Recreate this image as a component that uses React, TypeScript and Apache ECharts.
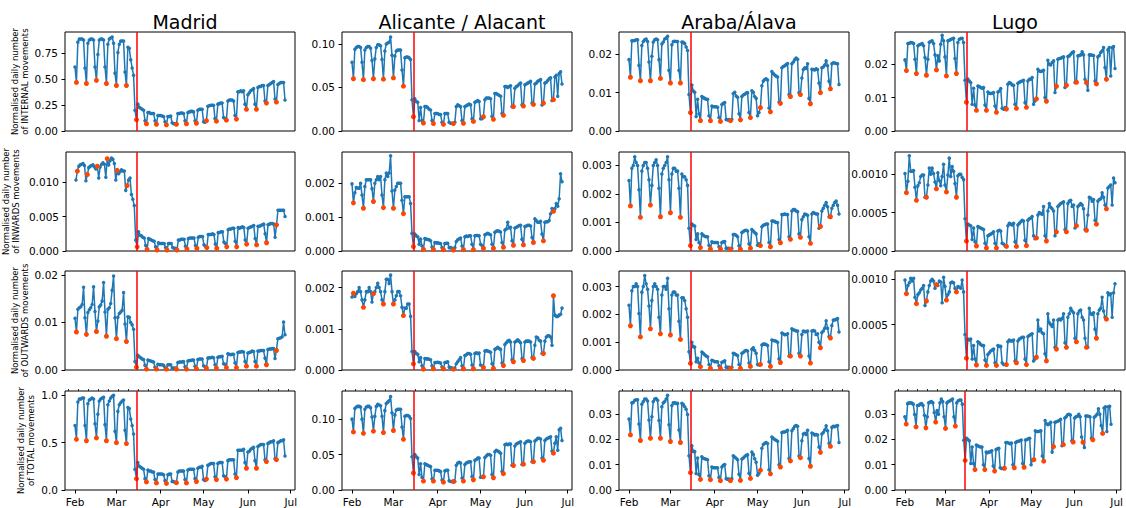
import React, { useEffect, useRef } from "react";
import * as echarts from "echarts";

const FONT = "DejaVu Sans";
const regions = ["Madrid", "Alicante / Alacant", "Araba/Álava", "Lugo"];
const movementKinds = ["INTERNAL", "INWARDS", "OUTWARDS", "TOTAL"];
const firstDate = "2020-02-01";
const stateOfAlarmDate = "2020-03-15";
const axisStart = "2020-01-25";
const axisEnd = "2020-07-04";
const monthLabels = ["Jan", "Feb", "Mar", "Apr", "May", "Jun", "Jul", "Aug", "Sep", "Oct", "Nov", "Dec"];

// Every series: Sat 1 Feb 2020, then one row per week (Sun..Sat) up to Sat 27 Jun 2020.
// Values are given in the unit listed in the matching *Units array.
const madridInternal = [62,
  47,86,89,89,89,88,61, 46,85,88,89,89,88,62, 49,74,88,89,89,88,62, 46,84,89,90,91,85,56,
  44,76,84,87,87,87,57, 44,81,80,69,61,54,20, 11,26,23,22,21,20,10, 7,18,18,17,17,17,10,
  6.5,15,15,15,14.5,14,9, 6,14,14,14.5,8,7,7, 6.5,17,17,17.5,17.5,17,10, 7,18,18.5,19,19,18.5,10,
  7.5,20,21,21,21,9,8.5, 10,24,24.5,25,25,25,12, 9.5,26,26.5,27,27,13,12, 10.5,29,30,30,30,29,15,
  11.5,38,38,39,38,39,26, 21,35,37,39,40,41,26, 21,42,43,43,44,44,29, 27,44,45,46,47,48,31,
  28,45,46,47,47,47,30];
const madridInwards = [103,
  116,123,125,126,127,124,102, 111,121,123,124,125,122,119, 123,106,122,126,128,126,107, 134,125,131,135,133,127,103,
  117,112,115,118,116,116,88, 95,103,106,82,75,66,16, 6,28,23,22,20,19,8, 2.4,18,17,16,15,14,6,
  1.4,12,11,11,11,11,5, 1.4,11,11,11,5,4,4, 1.4,16,16,17,17,17,7, 3,18,19,19,19,19,8,
  4,20,21,21,21,9,7, 5,24,24,24,25,24,10, 4,27,27,28,28,13,11, 6,31,32,32,33,33,14,
  6,34,33,34,35,34,16, 10,33,34,35,36,37,18, 9,36,36,37,38,39,25, 12,38,39,40,40,39,20,
  38,59,59,59,59,59,50];
const madridOutwards = [109,
  80,128,131,133,138,174,110, 75,121,127,131,138,175,123, 81,103,133,137,145,184,122, 71,128,131,140,168,198,110,
  66,111,119,122,126,163,97, 60,112,111,100,95,86,18, 6,31,28,26,23,22,10, 2,21,20,19,18,17,6,
  2,12,11,11,11,10,5, 2,11,11,11,4,4,4, 2,16,17,17,17,18,7, 2,19,20,20,21,21,8,
  3,22,23,23,23,9,7, 4,25,26,26,27,26,11, 4,27,28,28,29,13,12, 5,34,33,32,33,33,15,
  5,37,38,38,39,38,18, 8,36,37,38,40,39,18, 8,40,40,41,41,41,25, 11,43,44,44,45,45,24,
  41,66,67,68,70,101,74];
const madridTotal = [68,
  53.5,93,96,96,97,97,68, 52,91,95,96,97,96,70, 55,80,94,96,97,98,69, 52,90,94,97,99,100,62,
  50,83,90,92,94,95,63, 49,87,86,75,68,59,22, 12,29,25,24,23,22,12, 8.5,21,20,20,19,19,11,
  7.5,17,17,17,17,16,10, 7,16,17,17,9,9,8, 7.7,19,20,20,20,20,11, 7.5,21,22,22,22,22,12,
  9,23,24,24,25,11,10, 11.5,26,27,28,28,28,14, 11,28,29,29,29,15,14, 11.5,31,32,32,32,32,17,
  13,42,42,42,42,43,29, 23,40,41,43,44,45,31, 23,46,47,48,48,48,32, 30,49,50,51,51,52,33,
  32,50,51,52,52,53,36];

const alicanteInternal = [79,
  60,94,96,97,97,96,79, 59,93,96,97,97,95,81, 60,83,96,99,99,98,82, 59.5,92,100,101,102,108,87,
  61,86,92,93,93,93,70, 51.5,84,85,85,84,82,36, 16.4,37,34,33,12,27,12, 9.2,28,28,27,25,24,12,
  8.5,20,20,20,19,19,10, 7.7,20,20,20,10,9,9, 8.5,10,28,30,29,28,12, 8.8,28,29,30,31,30,14,
  11,33,34,35,34,14,14, 16.4,36,38,38,38,37,17, 13.4,43,43,42,41,40,20, 18,51,51,50,51,52,28,
  28,49,51,52,54,55,30, 28.6,53,54,55,56,57,32, 30.5,54,55,57,58,59,30, 32,55,56,58,60,61,35,
  36,62,64,40,66,68,54];
const alicanteInwards = [198,
  142,172,187,186,185,200,165, 126,190,210,210,210,210,184, 146,200,210,220,210,220,165, 128,210,230,220,230,281,177,
  126,180,190,200,200,200,150, 110,160,160,160,160,140,52, 13,50,45,42,20,35,15, 5,37,35,34,33,30,12,
  5,25,24,24,23,22,10, 4,22,23,23,10,10,8, 3,10,28,33,36,38,15, 4,42,44,43,45,45,20,
  4,45,46,46,45,20,16, 8,48,50,52,50,48,20, 8,55,58,60,58,56,25, 11,62,65,85,68,70,30,
  17,68,70,72,75,76,35, 18,72,74,76,76,74,40, 25,95,90,85,85,88,50, 30,85,86,86,90,110,125,
  117,125,140,132,154,228,204];
const alicanteOutwards = [177,
  186,178,185,190,200,190,170, 152,170,190,190,200,190,165, 185,190,200,210,200,190,170, 160,190,220,220,210,230,190,
  160,170,180,190,190,180,152, 132,150,150,160,160,130,45, 15,45,40,38,20,30,10, 2,28,27,27,26,25,10,
  3,18,18,19,18,17,7, 3,18,19,20,7,6,5, 2,5,15,20,25,30,10, 3,35,37,40,40,38,12,
  3,40,42,40,41,12,10, 6,46,47,46,45,43,15, 4,50,52,55,52,50,17, 11,62,66,70,72,68,25,
  20,68,70,73,70,66,28, 23,68,70,70,70,68,30, 28,60,80,78,72,70,40, 40,70,80,83,83,80,60,
  180,133,130,130,133,135,150];
const alicanteTotal = [100,
  82,115,117,118,118,117,100, 80,114,117,118,118,116,103, 83,104,118,121,120,119,104, 81,112,122,124,126,132,109,
  84,106,113,114,114,114,89, 71.5,104,105,105,104,101,47, 24,50,47,45,22,37,18, 12.6,37,36,35,34,33,16,
  12.6,28,28,28,27,26,14, 11,27,28,28,13,12,12, 12,12,35,38,39,38,17, 12.6,36,38,39,40,40,19,
  14.5,42,43,45,45,18,18, 18.7,46,48,50,50,49,22, 17.3,54,56,55,54,52,26, 23,64,65,64,65,65,35,
  34.6,62,65,66,67,68,36, 36.4,66,68,69,69,68,40, 40,69,71,73,73,72,45, 42,70,72,73,74,75,55,
  52,66,75,56,85,87,70];

const arabaInternal = [186,
  140,235,235,236,238,238,171, 131,223,233,238,240,233,180, 131,195,232,238,240,238,186, 137,227,232,240,242,247,158,
  125,225,233,234,233,233,158, 125,232,231,228,219,210,95, 48,120,104,101,38,83,45, 27,90,87,85,83,83,40,
  27,65,63,63,63,62,35, 25,69,72,74,30,29,30, 27,30,98,101,91,88,45, 29,90,94,96,99,100,48,
  35,105,101,90,85,40,48, 61,118,130,134,136,133,60, 50,155,150,146,143,141,75, 72,165,168,170,173,176,95,
  90,175,180,186,190,187,100, 95,138,160,165,163,175,85, 71,161,160,159,162,160,125, 100,165,167,172,183,170,130,
  110,175,178,177,176,175,121];
const arabaInwards = [247,
  158,290,300,330,310,300,215, 118,280,300,310,310,290,250, 161,230,300,310,320,300,220, 120,270,290,300,310,330,250,
  134,270,290,290,280,280,220, 118,270,260,260,250,230,80, 19,95,90,88,40,60,30, 12,60,55,52,50,50,20,
  7,32,30,30,30,30,15, 7,30,32,33,10,10,10, 6,10,58,58,55,50,18, 6,65,68,72,73,70,25,
  10,75,70,65,60,20,25, 19,85,90,92,95,95,30, 15,105,105,103,100,100,40, 29,128,128,130,128,128,50,
  41,140,145,145,140,138,60, 48,110,120,130,128,125,50, 27,130,135,132,130,130,80, 86,140,150,160,170,155,120,
  120,150,160,170,175,160,130];
const arabaOutwards = [233,
  159,285,300,300,310,300,203, 119,280,300,340,310,290,230, 148,250,300,310,300,290,190, 130,270,300,300,290,330,220,
  126,270,280,280,270,270,175, 110,260,260,250,220,190,66, 24,100,84,83,30,42,25, 12,65,60,55,50,48,20,
  6,35,33,30,30,30,15, 6,28,30,33,10,10,10, 6,10,60,58,55,52,20, 6,60,63,68,70,68,25,
  13,75,80,70,60,20,18, 20,90,93,93,92,88,30, 13,108,106,105,103,100,40, 27,133,130,127,128,130,50,
  50,148,145,143,140,140,60, 50,128,140,138,138,140,50, 25,140,142,140,128,130,100, 80,135,140,150,177,150,120,
  115,160,180,180,182,185,137];
const arabaTotal = [281,
  218,345,347,355,357,357,261, 196,340,350,360,360,352,277, 205,290,350,360,362,355,275, 205,330,345,350,360,375,258,
  192,335,345,345,343,343,238, 188,343,338,330,320,299,136, 69,175,153,152,65,127,60, 42,132,126,124,122,120,56,
  41,91,88,88,88,88,50, 37,91,98,101,45,43,43, 37,45,136,131,126,120,62, 38,123,127,133,138,140,66,
  46,150,141,124,110,58,65, 78,165,180,185,188,184,80, 64,210,205,200,197,193,100, 91,228,230,230,233,237,125,
  115,235,243,252,255,252,135, 128,195,222,225,220,237,125, 94,226,223,218,220,218,170, 149,222,228,238,254,235,185,
  173,248,252,251,253,255,188];

const lugoInternal = [213,
  181,262,263,265,264,262,215, 172,255,258,260,262,255,220, 167,215,266,268,270,262,228, 183,225,210,260,287,270,222,
  165,270,272,274,276,278,217, 172,265,275,277,278,265,152, 86,156,150,145,80,128,78, 62,135,133,130,128,130,78,
  62,117,113,112,113,115,75, 56,117,120,127,68,65,70, 66,140,145,143,138,137,80, 68,143,146,148,150,152,85,
  71,150,155,155,160,80,90, 96,185,180,178,180,182,100, 89,212,200,198,205,210,115, 134,215,217,218,220,222,130,
  137,223,225,230,235,237,145, 146,225,226,228,237,228,155, 145,122,228,228,227,226,150, 141,222,226,235,240,250,190,
  155,243,250,165,250,253,187];
const lugoInwards = [101,
  76,91,124,104,104,105,83, 66,85,89,97,99,99,70, 70,86,108,100,108,101,90, 81,102,92,85,97,113,86,
  77,99,121,97,110,104,88, 70,98,100,100,96,93,42, 13,35,34,33,15,30,12, 6.5,32,31,30,29,28,10,
  4,20,21,22,23,25,10, 4,26,27,26,10,9,7, 6,33,36,35,34,36,12, 6,34,36,38,40,39,14,
  7,40,42,43,45,20,16, 17,47,50,49,48,58,20, 13,52,62,57,55,52,20, 25,58,60,62,63,64,28,
  25,62,65,66,58,60,30, 33,58,60,62,60,55,28, 27,47,70,69,65,67,40, 35,65,67,68,76,70,60,
  55,82,84,86,60,95,89];
const lugoOutwards = [99,
  84,93,96,101,98,101,80, 73,83,85,88,90,93,71, 76,86,93,98,100,98,90, 94,93,98,97,74,102,92,
  77,83,86,96,97,96,90, 86,92,91,90,99,86,39, 13,34,33,34,12,27,12, 5.5,31,30,28,27,27,11,
  5,17,19,21,22,23,8, 5,27,26,26,8,6,6, 6,31,33,32,32,33,10, 8,32,34,35,36,36,12,
  6,37,38,39,40,10,12, 14,55,43,45,41,40,18, 10,62,52,50,48,55,25, 23,55,56,55,57,62,30,
  25,58,62,68,65,63,35, 31,62,65,66,58,55,35, 25,25,68,62,61,63,45, 35,62,66,68,80,65,58,
  56,85,83,84,58,85,95];
const lugoTotal = [290,
  261,342,345,345,344,340,299, 250,335,336,340,342,335,296, 246,290,345,348,350,345,307, 269,315,300,345,360,350,290,
  244,345,350,352,356,360,290, 253,345,353,356,356,340,197, 117,205,200,195,105,170,105, 81,178,175,172,170,170,100,
  81,150,148,150,152,155,95, 75,160,163,165,88,85,85, 86,188,188,186,183,186,100, 88,188,192,193,195,198,105,
  90,198,200,203,205,100,120, 120,235,232,232,233,235,135, 114,275,262,258,262,268,150, 172,268,270,272,275,280,175,
  180,285,290,298,300,297,195, 190,285,290,292,300,290,210, 189,168,293,293,292,290,205, 199,288,293,300,322,300,255,
  224,325,330,232,330,332,260];

const madridUnits = [1e-2, 1e-4, 1e-4, 1e-2];
const alicanteUnits = [1e-3, 1e-5, 1e-5, 1e-3];
const arabaUnits = [1e-4, 1e-5, 1e-5, 1e-4];
const lugoUnits = [1e-4, 1e-5, 1e-5, 1e-4];

const madridTicks = [[0, 0.25, 0.5, 0.75], [0, 0.005, 0.01], [0, 0.01, 0.02], [0, 0.5, 1]];
const alicanteTicks = [[0, 0.05, 0.1], [0, 0.001, 0.002], [0, 0.001, 0.002], [0, 0.05, 0.1]];
const arabaTicks = [[0, 0.01, 0.02], [0, 0.001, 0.002, 0.003], [0, 0.001, 0.002, 0.003], [0, 0.01, 0.02, 0.03]];
const lugoTicks = [[0, 0.01, 0.02], [0, 0.0005, 0.001], [0, 0.0005, 0.001], [0, 0.01, 0.02, 0.03]];

const madridDecimals = [2, 3, 2, 1];
const alicanteDecimals = [2, 3, 3, 2];
const arabaDecimals = [2, 3, 3, 2];
const lugoDecimals = [2, 4, 4, 2];

const madridMax = [0.958, 0.01437, 0.02084, 1.045];
const alicanteMax = [0.1137, 0.00292, 0.0024, 0.1397];
const arabaMax = [0.0258, 0.00347, 0.00356, 0.0392];
const lugoMax = [0.02965, 0.00129, 0.00109, 0.0392];

const columns = [
  { series: [madridInternal, madridInwards, madridOutwards, madridTotal], units: madridUnits, ticks: madridTicks, decimals: madridDecimals, max: madridMax },
  { series: [alicanteInternal, alicanteInwards, alicanteOutwards, alicanteTotal], units: alicanteUnits, ticks: alicanteTicks, decimals: alicanteDecimals, max: alicanteMax },
  { series: [arabaInternal, arabaInwards, arabaOutwards, arabaTotal], units: arabaUnits, ticks: arabaTicks, decimals: arabaDecimals, max: arabaMax },
  { series: [lugoInternal, lugoInwards, lugoOutwards, lugoTotal], units: lugoUnits, ticks: lugoTicks, decimals: lugoDecimals, max: lugoMax },
];

const GRID_LEFT = [65, 342, 619, 895];
const GRID_TOP = [32, 152, 271, 391];
const GRID_W = 230;
const GRID_H = 99;
const NAME_GAP = [35, 45, 35, 29];

const DAY = 86400000;
const toTime = (s: string) => Date.parse(s + "T00:00:00Z");

function buildOption() {
  const categories: string[] = [];
  for (let t = toTime(axisStart); t <= toTime(axisEnd); t += DAY) {
    categories.push(new Date(t).toISOString().slice(0, 10));
  }
  const offset = categories.indexOf(firstDate);
  const isMonthStart = (_i: number, v: string) => v.slice(8, 10) === "01";
  const isMonday = (_i: number, v: string) => new Date(toTime(v)).getUTCDay() === 1 && v.slice(8, 10) !== "01";

  const grids: any[] = [];
  const xAxes: any[] = [];
  const minorAxes: any[] = [];
  const yAxes: any[] = [];
  const series: any[] = [];
  const axisColor = "#000";

  for (let r = 0; r < 4; r++) {
    for (let c = 0; c < 4; c++) {
      const gi = r * 4 + c;
      const col = columns[c];
      grids.push({
        left: GRID_LEFT[c], top: GRID_TOP[r], width: GRID_W, height: GRID_H,
        show: true, borderColor: axisColor, borderWidth: 1, backgroundColor: "transparent",
      });
      const bottom = r === 3;
      xAxes.push({
        type: "category", gridIndex: gi, data: categories, boundaryGap: false,
        axisLine: { show: false },
        splitLine: { show: false },
        axisTick: { show: bottom, interval: isMonthStart, length: 3.5, lineStyle: { color: axisColor, width: 1 } },
        axisLabel: {
          show: bottom, interval: isMonthStart, margin: 6, fontSize: 10.5, color: axisColor, fontFamily: FONT,
          formatter: (v: string) => monthLabels[Number(v.slice(5, 7)) - 1],
        },
      });
      if (bottom) {
        minorAxes.push({
          type: "category", gridIndex: gi, data: categories, boundaryGap: false,
          axisLine: { show: false }, splitLine: { show: false }, axisLabel: { show: false },
          axisTick: { show: true, interval: isMonday, length: 2, lineStyle: { color: axisColor, width: 0.8 } },
        });
      }
      const ticks = col.ticks[r];
      const dec = col.decimals[r];
      yAxes.push({
        type: "value", gridIndex: gi, min: 0, max: col.max[r],
        axisLine: { show: false }, splitLine: { show: false },
        axisTick: { show: true, length: 3.5, customValues: ticks, lineStyle: { color: axisColor, width: 1 } },
        axisLabel: {
          customValues: ticks, margin: 7, fontSize: 10.5, color: axisColor, fontFamily: FONT,
          formatter: (v: number) => v.toFixed(dec),
        },
        name: c === 0 ? `Normalised daily number\nof ${movementKinds[r]} movements` : "",
        nameLocation: "middle", nameRotate: 90, nameGap: NAME_GAP[r],
        nameTextStyle: { fontSize: 8.5, lineHeight: 10, color: axisColor, fontFamily: FONT },
      });
      const values = col.series[r];
      const unit = col.units[r];
      const points = values.map((v, i) => [categories[offset + i], Number((v * unit).toPrecision(6))]);
      const sundays = points.filter((p) => new Date(toTime(p[0] as string)).getUTCDay() === 0);
      series.push({
        type: "line", xAxisIndex: gi, yAxisIndex: gi, data: points,
        symbol: "circle", symbolSize: 3.5, showSymbol: true, showAllSymbol: true,
        itemStyle: { color: "#1f77b4" }, lineStyle: { color: "#1f77b4", width: 1.5 },
        z: 2, silent: true,
        markLine: {
          silent: true, symbol: ["none", "none"], label: { show: false },
          lineStyle: { color: "#ff0000", width: 1.5, type: "solid" },
          data: [{ xAxis: stateOfAlarmDate }],
        },
      });
      series.push({
        type: "scatter", xAxisIndex: gi, yAxisIndex: gi, data: sundays,
        symbol: "circle", symbolSize: 5, itemStyle: { color: "#ff4500", opacity: 1 }, z: 4, silent: true,
      });
    }
  }

  return {
    animation: false,
    backgroundColor: "#fff",
    textStyle: { fontFamily: FONT },
    title: regions.map((t, c) => ({
      text: t, left: GRID_LEFT[c] + GRID_W / 2, top: 7, textAlign: "center",
      textStyle: { fontSize: 19, fontWeight: "normal", color: "#000", fontFamily: FONT },
    })),
    grid: grids,
    xAxis: [...xAxes, ...minorAxes],
    yAxis: yAxes,
    series,
  };
}

export default function App() {
  const ref = useRef<HTMLDivElement>(null);
  useEffect(() => {
    if (!ref.current) return;
    const chart = echarts.init(ref.current, undefined, { renderer: "svg" });
    chart.setOption(buildOption() as any);
    return () => chart.dispose();
  }, []);
  return (
    <div
      ref={ref}
      style={{ position: "absolute", left: 0, top: 0, width: 1126, height: 508, background: "#fff" }}
    />
  );
}
